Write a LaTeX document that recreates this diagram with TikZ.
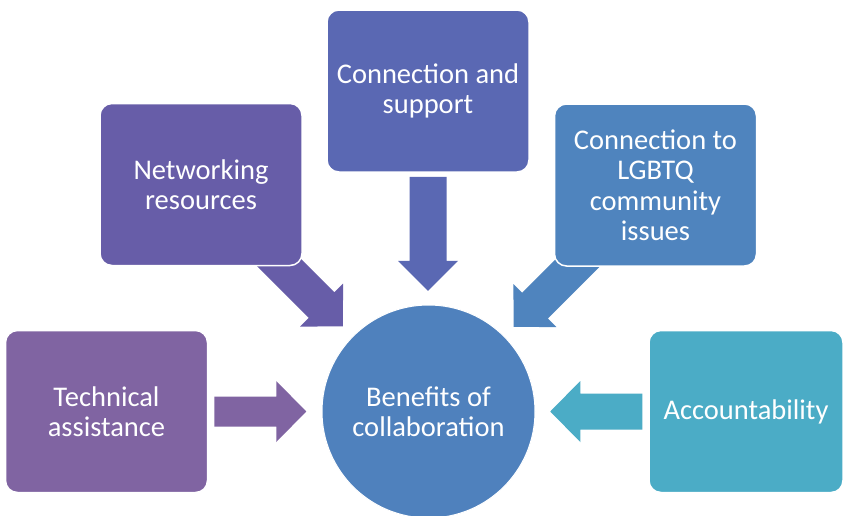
\documentclass[tikz,border=0pt]{standalone}
\usepackage{fontspec}
\setmainfont{Carlito}
\usetikzlibrary{calc}
\pgfdeclarelayer{background}
\pgfsetlayers{background,main}
\definecolor{ctech}{HTML}{8064A2}
\definecolor{cnet}{HTML}{675DA8}
\definecolor{csup}{HTML}{5A68B3}
\definecolor{clgb}{HTML}{4F84BE}
\definecolor{cben}{HTML}{4F81BD}
\definecolor{cacc}{HTML}{4BACC6}
\tikzset{
  pics/blockarrow/.style n args={4}{code={
    \fill[#4] (0,-#2) -- ({#1-30},-#2) -- ({#1-30},-#3) -- (#1,0) -- ({#1-30},#3) -- ({#1-30},#2) -- (0,#2) -- cycle;
  }},
  boxnode/.style={rectangle, rounded corners=12, fill=#1, draw=white, line width=1.5,
    minimum width=202, minimum height=162, inner sep=0, text=white, align=center,
    font=\fontsize{28.5}{30.5}\selectfont},
  hubnode/.style={circle, fill=cben, draw=white, line width=1, minimum size=213, inner sep=0,
    text=white, align=center, font=\fontsize{28.5}{30.5}\selectfont}
}
\begin{document}
\begin{tikzpicture}[x=1pt, y=-1pt]
\useasboundingbox (0,0) rectangle (844,515);
\clip (0,0) rectangle (844,515);
% boxes and hub
\node[boxnode=ctech] (tech) at (106.5,411.5) {Technical\\assistance};
\node[boxnode=cnet] (net) at (201,184.5) {Networking\\resources};
\node[boxnode=csup] (sup) at (428,91) {Connection and\\support};
\node[boxnode=clgb] (lgb) at (655.5,185) {Connection to\\LGBTQ\\community\\issues};
\node[boxnode=cacc, minimum width=194] (acc) at (746,411.5) {Accountability};
\node[hubnode] (ben) at (428.5,411.5) {Benefits of\\collaboration};
% block arrows, behind the boxes
\begin{pgfonlayer}{background}
\fill[white] (0,0) rectangle (844,515);
\pic at ($(tech.east)+(6,0)$) {blockarrow={92}{15}{30.5}{ctech}};
\pic[rotate=180] at ($(acc.west)+(-6,0)$) {blockarrow={92}{18}{30.5}{cacc}};
\pic[rotate=-90] at ($(sup.south)+(0,4)$) {blockarrow={114}{18.5}{30}{csup}};
\pic[rotate=-45] at ($(net.south east)+(-37,-17)$) {blockarrow={109}{18.2}{30.4}{cnet}};
\pic[rotate=-135] at ($(lgb.south west)+(37,-17)$) {blockarrow={109}{18.2}{30.4}{clgb}};
\end{pgfonlayer}
\end{tikzpicture}
\end{document}
